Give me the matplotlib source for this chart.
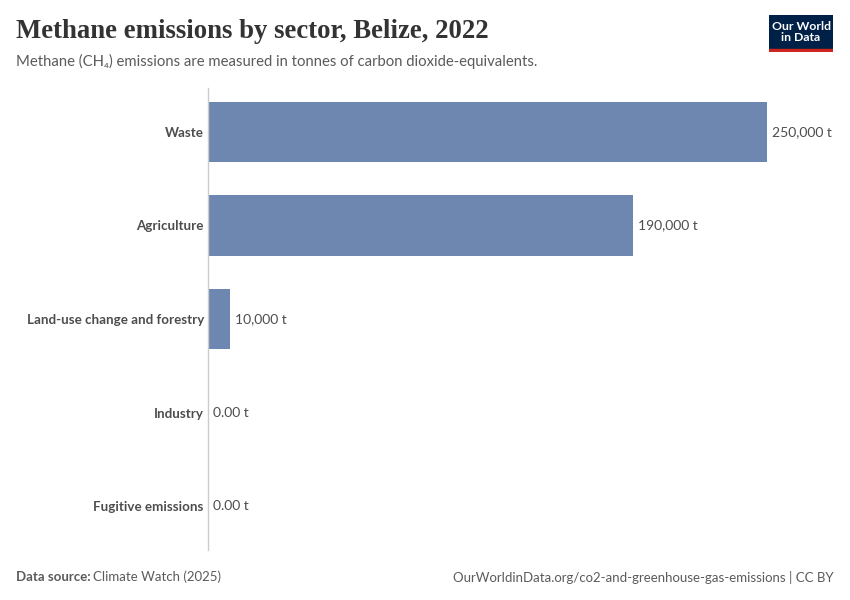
import matplotlib.pyplot as plt
from matplotlib.patches import Rectangle

# ---------- DATA ----------
sectors = ["Waste", "Agriculture", "Land-use change and forestry", "Industry", "Fugitive emissions"]
emissions = [250000, 190000, 10000, 0, 0]
value_labels = ["250,000 t", "190,000 t", "10,000 t", "0.00 t", "0.00 t"]
# ---------------------------

BAR_COLOR = "#6d87b0"
TEXT_DARK = "#4d4d4d"
TEXT_GREY = "#5b5b5b"

plt.rcParams["font.family"] = ["Lato", "DejaVu Sans"]

fig = plt.figure(figsize=(8.5, 6), dpi=100)
W, H = 850, 600

# axes placed in pixel terms: x from 208 to 767 (=250k), y from 88 to 550
ax = fig.add_axes([208 / W, 1 - 550 / H, (767 - 208) / W, (550 - 88) / H])
ax.set_xlim(0, 250000)
ax.set_ylim(len(sectors) - 0.53, -0.47)

ypos = list(range(len(sectors)))
ax.barh(ypos, emissions, height=0.645, color=BAR_COLOR, edgecolor="none", zorder=2)

for y, v, lab in zip(ypos, emissions, value_labels):
    ax.text(v + 2200, y, lab, va="center", ha="left", fontsize=10, color=TEXT_DARK)

ax.set_yticks(ypos)
ax.set_yticklabels(sectors, fontsize=9.6, fontweight="bold", color=TEXT_DARK)
ax.tick_params(axis="y", length=0, pad=3)
ax.set_xticks([])
for side in ["top", "right", "bottom"]:
    ax.spines[side].set_visible(False)
ax.spines["left"].set_color("#cccccc")
ax.spines["left"].set_linewidth(1)

# title and subtitle
fig.text(16 / W, 1 - 32 / H, "Methane emissions by sector, Belize, 2022",
         family=["Liberation Serif", "DejaVu Serif"], fontsize=19.3, fontweight="bold",
         color="#333333", va="center", ha="left")
fig.text(16 / W, 1 - 61 / H,
         "Methane (CH\u2084) emissions are measured in tonnes of carbon dioxide-equivalents.",
         fontsize=10.7, color=TEXT_GREY, va="center", ha="left")

# OWID logo
logo_ax = fig.add_axes([769 / W, 1 - 52 / H, 64 / W, 37 / H])
logo_ax.set_xlim(0, 1)
logo_ax.set_ylim(0, 1)
logo_ax.axis("off")
logo_ax.add_patch(Rectangle((0, 0.08), 1, 0.92, color="#002147"))
logo_ax.add_patch(Rectangle((0, 0), 1, 0.08, color="#ce261e"))
logo_ax.text(0.5, 0.55, "Our World\nin Data", color="white", fontsize=8.8,
             fontweight="bold", ha="center", va="center", linespacing=1.0)

# footer
fig.text(16 / W, 1 - 577 / H, "Data source:", fontsize=9.5, fontweight="bold",
         color=TEXT_GREY, va="center", ha="left")
fig.text(93 / W, 1 - 577 / H, "Climate Watch (2025)", fontsize=9.5,
         color=TEXT_GREY, va="center", ha="left")
fig.text(834 / W, 1 - 577 / H,
         "OurWorldinData.org/co2-and-greenhouse-gas-emissions | CC BY",
         fontsize=9.5, color=TEXT_GREY, va="center", ha="right")

fig.savefig("out.png", dpi=100, facecolor="white")
